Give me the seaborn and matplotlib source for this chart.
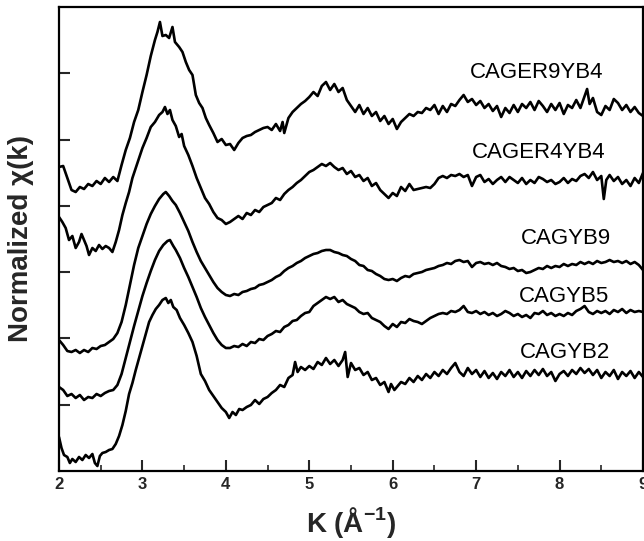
import matplotlib
matplotlib.use("Agg")
import matplotlib.pyplot as plt
import seaborn as sns
import pandas as pd
from matplotlib.ticker import MultipleLocator, NullFormatter

# (k, normalized chi(k) with vertical offset, arbitrary units)
CAGER9YB4 = [(2.00,304),(2.05,305),(2.10,293),(2.15,281),(2.20,279),(2.25,284),(2.30,282),(2.35,287),(2.40,285),(2.45,290),
 (2.50,287),(2.55,293),(2.60,289),(2.65,294),(2.70,290),(2.75,306),(2.80,321),(2.85,333),(2.90,349),(2.95,361),
 (3.00,379),(3.05,396),(3.10,415),(3.15,431),(3.18,439),(3.21,449),(3.24,435),(3.28,436),(3.32,433),(3.36,444),
 (3.39,429),(3.44,424),(3.48,419),(3.52,409),(3.56,401),(3.60,396),(3.64,376),(3.68,368),(3.72,363),(3.76,353),
 (3.80,346),(3.85,338),(3.90,329),(3.95,332),(4.00,326),(4.05,327),(4.10,321),(4.15,328),(4.20,333),(4.25,335),
 (4.30,336),(4.35,339),(4.40,341),(4.45,343),(4.50,344),(4.55,341),(4.60,347),(4.65,340),(4.68,349),(4.70,338),
 (4.75,353),(4.80,359),(4.85,363),(4.90,367),(4.95,370),(5.00,374),(5.05,379),(5.10,375),(5.15,385),(5.20,389),
 (5.25,381),(5.30,387),(5.35,379),(5.40,383),(5.45,371),(5.50,365),(5.55,359),(5.60,366),(5.65,357),(5.70,363),
 (5.75,355),(5.80,359),(5.85,350),(5.90,355),(5.95,347),(6.00,352),(6.05,342),(6.10,349),(6.15,353),(6.20,357),
 (6.25,355),(6.30,359),(6.35,358),(6.40,363),(6.45,361),(6.50,366),(6.55,357),(6.60,365),(6.65,359),(6.70,367),
 (6.75,365),(6.80,371),(6.85,376),(6.90,369),(6.95,372),(7.00,366),(7.05,370),(7.10,363),(7.15,367),(7.20,360),
 (7.25,365),(7.30,354),(7.35,363),(7.40,358),(7.45,366),(7.50,359),(7.55,367),(7.60,363),(7.65,369),(7.70,361),
 (7.75,370),(7.80,365),(7.85,359),(7.90,367),(7.95,361),(8.00,368),(8.05,357),(8.10,366),(8.15,363),(8.20,371),
 (8.25,363),(8.30,375),(8.33,382),(8.36,367),(8.40,373),(8.45,359),(8.50,356),(8.55,365),(8.60,361),(8.65,372),
 (8.70,368),(8.75,361),(8.80,366),(8.85,359),(8.90,364),(8.95,358),(9.00,355)]

CAGER4YB4 = [(2.00,254),(2.04,249),(2.08,243),(2.12,231),(2.16,235),(2.20,223),(2.24,229),(2.27,237),(2.30,231),(2.33,225),
 (2.36,216),(2.40,223),(2.44,220),(2.48,226),(2.52,222),(2.56,225),(2.60,223),(2.64,219),(2.68,229),(2.72,241),
 (2.76,256),(2.80,268),(2.84,279),(2.88,293),(2.92,303),(2.96,313),(3.00,323),(3.05,333),(3.10,344),(3.15,349),
 (3.20,356),(3.24,359),(3.27,364),(3.30,357),(3.33,361),(3.36,351),(3.40,345),(3.44,334),(3.47,337),(3.50,325),
 (3.55,316),(3.60,305),(3.65,293),(3.70,283),(3.75,273),(3.80,267),(3.85,259),(3.90,253),(3.95,251),(4.00,247),
 (4.05,249),(4.10,252),(4.15,255),(4.20,252),(4.25,258),(4.30,256),(4.35,261),(4.40,259),(4.45,264),(4.50,266),
 (4.55,268),(4.60,273),(4.65,271),(4.70,277),(4.75,281),(4.80,284),(4.85,288),(4.90,291),(4.95,295),(5.00,299),
 (5.05,301),(5.10,304),(5.15,307),(5.20,305),(5.25,308),(5.30,304),(5.35,301),(5.40,303),(5.45,297),(5.50,300),
 (5.55,294),(5.60,296),(5.65,290),(5.70,293),(5.75,285),(5.80,288),(5.85,281),(5.90,277),(5.95,273),(6.00,278),
 (6.05,275),(6.10,284),(6.15,280),(6.20,287),(6.25,281),(6.30,282),(6.35,283),(6.40,284),(6.45,283),(6.50,287),
 (6.55,293),(6.60,295),(6.65,293),(6.70,296),(6.75,295),(6.80,297),(6.85,294),(6.90,296),(6.95,285),(7.00,294),
 (7.05,296),(7.10,289),(7.15,292),(7.20,287),(7.25,291),(7.30,294),(7.35,289),(7.40,294),(7.45,291),(7.50,288),
 (7.55,293),(7.60,287),(7.65,291),(7.70,288),(7.75,294),(7.80,292),(7.85,289),(7.90,291),(7.95,287),(8.00,289),
 (8.05,293),(8.10,288),(8.15,292),(8.20,290),(8.25,295),(8.30,297),(8.35,293),(8.40,299),(8.45,291),(8.50,295),
 (8.53,272),(8.56,291),(8.60,296),(8.65,290),(8.70,294),(8.75,287),(8.80,291),(8.85,285),(8.90,293),(8.95,288),
 (9.00,298)]

CAGYB9 = [(2.00,131),(2.05,126),(2.10,120),(2.15,119),(2.20,121),(2.25,118),(2.30,121),(2.35,119),(2.40,123),(2.45,122),
 (2.50,125),(2.55,126),(2.60,129),(2.65,132),(2.70,138),(2.75,149),(2.80,166),(2.85,186),(2.90,206),(2.95,223),
 (3.00,235),(3.05,247),(3.10,257),(3.15,265),(3.20,272),(3.25,277),(3.28,279),(3.32,275),(3.36,270),(3.40,266),
 (3.45,258),(3.50,249),(3.55,240),(3.60,229),(3.65,219),(3.70,210),(3.75,203),(3.80,196),(3.85,189),(3.90,183),
 (3.95,179),(4.00,176),(4.05,175),(4.10,177),(4.15,176),(4.20,179),(4.25,180),(4.30,182),(4.35,183),(4.40,186),
 (4.45,187),(4.50,189),(4.55,191),(4.60,194),(4.65,196),(4.70,200),(4.75,203),(4.80,205),(4.85,208),(4.90,210),
 (4.95,213),(5.00,215),(5.05,217),(5.10,218),(5.15,220),(5.20,221),(5.25,221),(5.30,219),(5.35,218),(5.40,216),
 (5.45,215),(5.50,212),(5.55,210),(5.60,206),(5.65,205),(5.70,201),(5.75,200),(5.80,197),(5.85,195),(5.90,192),
 (5.95,191),(6.00,192),(6.05,190),(6.10,193),(6.15,195),(6.20,194),(6.25,197),(6.30,198),(6.35,199),(6.40,201),
 (6.45,202),(6.50,203),(6.55,205),(6.60,206),(6.65,208),(6.70,207),(6.75,210),(6.80,211),(6.85,209),(6.90,210),
 (6.95,204),(7.00,208),(7.05,209),(7.10,207),(7.15,208),(7.20,206),(7.25,208),(7.30,205),(7.35,204),(7.40,202),
 (7.45,203),(7.50,200),(7.55,201),(7.60,198),(7.65,199),(7.70,201),(7.75,203),(7.80,202),(7.85,205),(7.90,203),
 (7.95,205),(8.00,204),(8.05,207),(8.10,205),(8.15,207),(8.20,206),(8.25,209),(8.30,207),(8.35,209),(8.40,207),
 (8.45,210),(8.50,208),(8.55,209),(8.60,211),(8.65,209),(8.70,210),(8.75,208),(8.80,210),(8.85,207),(8.90,209),
 (8.95,206),(9.00,201)]

CAGYB5 = [(2.00,84),(2.05,81),(2.10,75),(2.15,77),(2.20,73),(2.25,76),(2.30,71),(2.35,74),(2.40,73),(2.45,77),
 (2.50,75),(2.55,78),(2.60,80),(2.65,81),(2.70,86),(2.75,97),(2.80,113),(2.85,129),(2.90,145),(2.95,160),
 (3.00,175),(3.05,188),(3.10,200),(3.15,211),(3.20,220),(3.25,226),(3.30,230),(3.33,231),(3.37,225),(3.40,221),
 (3.45,213),(3.50,203),(3.55,194),(3.60,184),(3.65,174),(3.70,163),(3.75,154),(3.80,146),(3.85,138),(3.90,131),
 (3.95,126),(4.00,123),(4.05,123),(4.10,125),(4.15,124),(4.20,127),(4.25,125),(4.30,129),(4.35,128),(4.40,132),
 (4.45,131),(4.50,135),(4.55,137),(4.60,140),(4.65,139),(4.70,144),(4.75,146),(4.80,150),(4.85,151),(4.90,155),
 (4.95,158),(5.00,159),(5.05,165),(5.10,168),(5.15,171),(5.20,174),(5.25,172),(5.30,174),(5.35,169),(5.40,171),
 (5.45,167),(5.50,165),(5.55,163),(5.60,159),(5.65,157),(5.70,158),(5.75,153),(5.80,151),(5.85,149),(5.90,145),
 (5.95,142),(6.00,147),(6.05,144),(6.10,149),(6.15,148),(6.20,152),(6.25,150),(6.30,149),(6.35,147),(6.40,150),
 (6.45,153),(6.50,155),(6.55,157),(6.60,158),(6.65,157),(6.70,160),(6.75,159),(6.80,161),(6.85,165),(6.90,159),
 (6.95,158),(7.00,160),(7.05,157),(7.10,159),(7.15,156),(7.20,158),(7.25,155),(7.30,157),(7.35,160),(7.40,158),
 (7.45,155),(7.50,157),(7.55,154),(7.60,156),(7.65,153),(7.70,158),(7.75,157),(7.80,160),(7.85,156),(7.90,158),
 (7.95,155),(8.00,157),(8.05,155),(8.10,158),(8.15,156),(8.20,160),(8.25,162),(8.30,165),(8.35,159),(8.40,157),
 (8.45,160),(8.50,158),(8.55,160),(8.60,157),(8.65,161),(8.70,159),(8.75,162),(8.80,158),(8.85,161),(8.90,159),
 (8.95,160),(9.00,159)]

CAGYB2 = [(2.00,34),(2.03,23),(2.06,16),(2.10,14),(2.13,8),(2.16,12),(2.20,9),(2.24,14),(2.28,11),(2.32,16),
 (2.36,13),(2.40,17),(2.43,8),(2.46,5),(2.49,15),(2.52,18),(2.56,19),(2.60,21),(2.64,22),(2.68,27),
 (2.72,35),(2.76,46),(2.80,60),(2.84,77),(2.88,88),(2.92,101),(2.96,113),(3.00,125),(3.04,137),(3.08,149),
 (3.12,156),(3.16,162),(3.20,166),(3.24,171),(3.28,173),(3.31,168),(3.34,171),(3.37,164),(3.41,161),(3.45,153),
 (3.50,146),(3.55,138),(3.60,129),(3.65,115),(3.70,97),(3.75,90),(3.80,81),(3.85,75),(3.90,69),(3.95,63),
 (4.00,59),(4.04,53),(4.08,59),(4.12,56),(4.16,62),(4.20,61),(4.25,64),(4.30,66),(4.35,71),(4.40,67),
 (4.45,72),(4.50,74),(4.55,78),(4.60,81),(4.65,86),(4.70,84),(4.75,93),(4.80,96),(4.83,109),(4.86,99),
 (4.90,104),(4.95,101),(5.00,105),(5.05,102),(5.10,109),(5.15,106),(5.20,113),(5.25,107),(5.30,111),(5.35,105),
 (5.40,111),(5.43,119),(5.46,94),(5.50,108),(5.55,101),(5.60,103),(5.65,96),(5.70,99),(5.75,91),(5.80,93),
 (5.85,86),(5.90,89),(5.95,79),(5.98,87),(6.02,81),(6.06,85),(6.10,89),(6.15,87),(6.20,93),(6.25,89),
 (6.30,95),(6.35,91),(6.40,97),(6.45,93),(6.50,99),(6.55,95),(6.60,101),(6.65,97),(6.70,103),(6.75,108),
 (6.80,99),(6.85,95),(6.90,103),(6.95,97),(7.00,101),(7.05,94),(7.10,100),(7.15,93),(7.20,98),(7.25,92),
 (7.30,99),(7.35,95),(7.40,101),(7.45,94),(7.50,99),(7.55,93),(7.60,100),(7.65,95),(7.70,101),(7.75,96),
 (7.80,102),(7.85,95),(7.90,99),(7.95,90),(8.00,97),(8.05,100),(8.10,95),(8.15,101),(8.20,97),(8.25,103),
 (8.30,98),(8.35,102),(8.40,96),(8.45,101),(8.50,93),(8.55,99),(8.60,95),(8.65,101),(8.70,92),(8.75,99),
 (8.80,95),(8.85,100),(8.90,93),(8.95,99),(9.00,94)]

series_names = ["CAGER9YB4", "CAGER4YB4", "CAGYB9", "CAGYB5", "CAGYB2"]
series_data = [CAGER9YB4, CAGER4YB4, CAGYB9, CAGYB5, CAGYB2]
label_k = [6.92, 6.95, 7.54, 7.51, 7.52]
label_y = [399, 319, 233, 174, 118]

x_ticks = [2, 3, 4, 5, 6, 7, 8, 9]

frames = []
for name, pts in zip(series_names, series_data):
    df = pd.DataFrame(pts, columns=["k", "chi"])
    df["sample"] = name
    frames.append(df)
data = pd.concat(frames, ignore_index=True)

sns.set_style("ticks")
plt.rcParams["font.family"] = ["Liberation Sans", "DejaVu Sans"]
plt.rcParams["mathtext.fontset"] = "custom"
plt.rcParams["mathtext.rm"] = "Liberation Sans"
plt.rcParams["mathtext.bf"] = "Liberation Sans:bold"

fig = plt.figure(figsize=(6.44, 5.41), dpi=100)
ax = fig.add_axes([59/644, 1-471/541, 584/644, 464/541])

sns.lineplot(data=data, x="k", y="chi", units="sample", estimator=None,
             color="black", linewidth=1.9, sort=False, ax=ax)

for name, lx, ly in zip(series_names, label_k, label_y):
    ax.text(lx, ly, name, fontsize=16, va="center", ha="left", color="black")

ax.set_xlim(2, 9)
ax.set_ylim(0, 464)
ax.set_xticks(x_ticks)
ax.set_xticklabels([str(t) for t in x_ticks], fontweight="bold", fontsize=12)
ax.xaxis.set_minor_locator(MultipleLocator(0.5))
ax.set_yticks([66.3 * i for i in range(1, 7)])
ax.yaxis.set_major_formatter(NullFormatter())
ax.tick_params(axis="both", which="major", direction="in", length=8, width=1.5, pad=4)
ax.tick_params(axis="x", which="minor", direction="in", length=4, width=1.2)
ax.tick_params(axis="y", which="minor", left=False)
for s in ax.spines.values():
    s.set_linewidth(1.6)
    s.set_color("black")

ax.set_xlabel(r"K (Å$^{\mathbf{-1}}$)", fontsize=20, fontweight="bold", labelpad=10)
ax.set_ylabel("Normalized χ(k)", fontsize=20, fontweight="bold", labelpad=14)

fig.savefig("out.png", dpi=100)
